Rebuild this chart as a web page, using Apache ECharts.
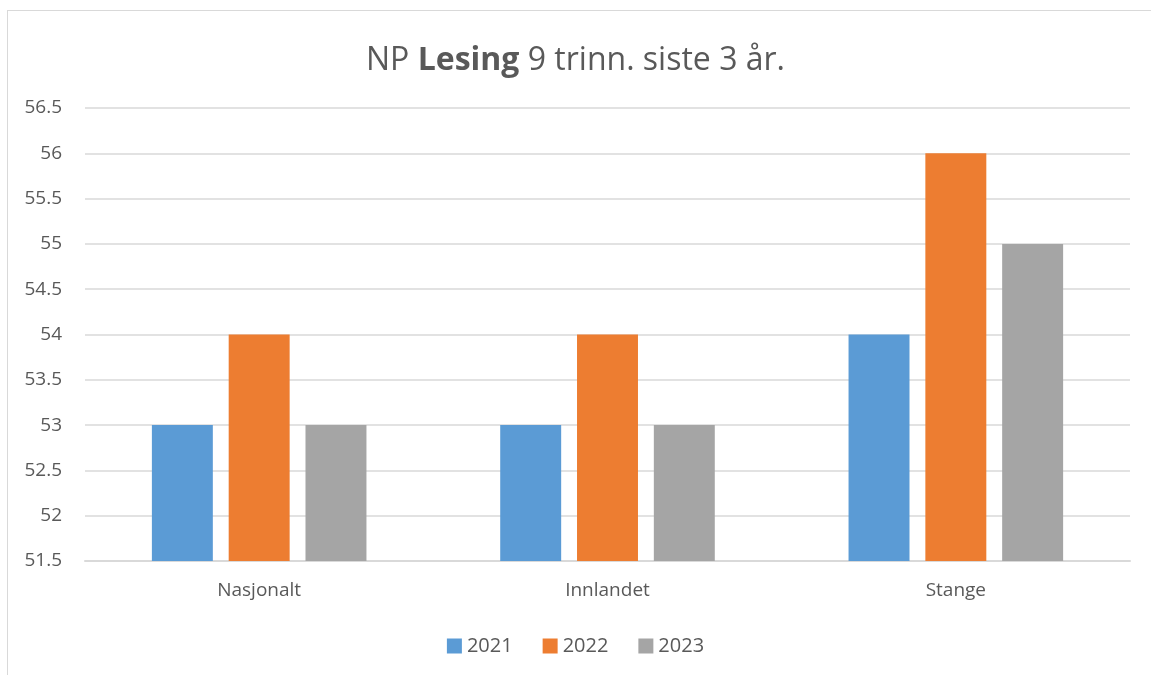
<!DOCTYPE html>
<html>
<head>
<meta charset="utf-8">
<script src="https://cdn.jsdelivr.net/npm/echarts@6/dist/echarts.min.js"></script>
<style>
  html, body { margin: 0; padding: 0; background: #fff; overflow: hidden; }
  #frame { position: absolute; left: 7px; top: 10px; width: 1200px; height: 720px; border: 1px solid #d9d9d9; box-sizing: border-box; }
  #chart { position: absolute; left: 0; top: 0; width: 1151px; height: 675px; }
</style>
</head>
<body>
<div id="frame"></div>
<div id="chart"></div>
<script>
var categories = ['Nasjonalt', 'Innlandet', 'Stange'];
var years = ['2021', '2022', '2023'];
var values2021 = [53, 53, 54];
var values2022 = [54, 54, 56];
var values2023 = [53, 53, 55];
var colors = ['#5B9BD5', '#ED7D31', '#A5A5A5'];

var font = '"Open Sans", sans-serif';
var chart = echarts.init(document.getElementById('chart'));
var allValues = [values2021, values2022, values2023];

chart.setOption({
    animation: false,
    color: colors,
    textStyle: { fontFamily: font, color: '#595959' },
    title: {
        text: 'NP {b|Lesing} 9 trinn. siste 3 år.',
        left: 'center',
        top: 40,
        textStyle: {
            fontFamily: font, fontSize: 32, fontWeight: 'normal', color: '#595959',
            rich: { b: { fontFamily: font, fontSize: 32, fontWeight: 'bold', color: '#595959' } }
        }
    },
    legend: {
        data: years,
        bottom: 14,
        left: 'center',
        itemWidth: 15,
        itemHeight: 15,
        itemGap: 30,
        icon: 'rect',
        textStyle: { fontFamily: font, fontSize: 20, color: '#595959' }
    },
    grid: { left: 85, right: 21, top: 108, bottom: 114, containLabel: false },
    xAxis: {
        type: 'category',
        data: categories,
        axisLine: { lineStyle: { color: '#d9d9d9', width: 2 } },
        axisTick: { show: false },
        axisLabel: { fontFamily: font, fontSize: 19, color: '#595959', margin: 20 }
    },
    yAxis: {
        type: 'value',
        min: 51.5,
        max: 56.5,
        interval: 0.5,
        axisLine: { show: false },
        axisTick: { show: false },
        splitLine: { lineStyle: { color: '#d9d9d9', width: 1.5 } },
        axisLabel: { fontFamily: font, fontSize: 19, color: '#595959', margin: 23 }
    },
    series: years.map(function (y, i) {
        return {
            name: y,
            type: 'bar',
            data: allValues[i],
            barWidth: '17.5%',
            barGap: '26%'
        };
    })
});
</script>
</body>
</html>
